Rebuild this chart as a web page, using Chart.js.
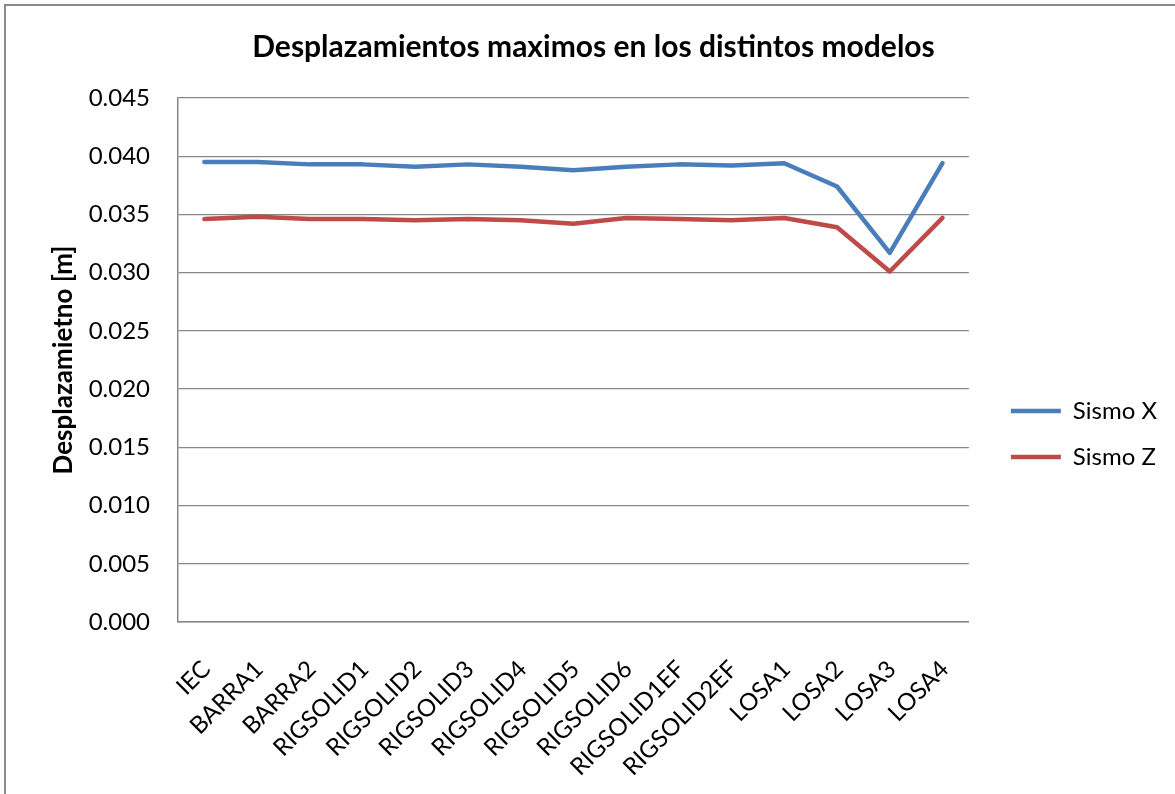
<!DOCTYPE html>
<html>
<head>
<meta charset="utf-8">
<script src="https://cdn.jsdelivr.net/npm/chart.js@4.4.1/dist/chart.umd.min.js"></script>
<style>
  html, body { margin: 0; padding: 0; background: #fff; overflow: hidden; }
  #marco { position: absolute; left: 4px; top: 4px; width: 1300px; height: 900px; border: 2px solid #8c8c8c; }
  #grafico { position: absolute; left: 0; top: 0; }
</style>
</head>
<body>
<div id="marco"></div>
<canvas id="grafico" width="1175" height="794"></canvas>
<script>
// Datos
var modelos = ['IEC', 'BARRA1', 'BARRA2', 'RIGSOLID1', 'RIGSOLID2', 'RIGSOLID3', 'RIGSOLID4', 'RIGSOLID5',
  'RIGSOLID6', 'RIGSOLID1EF', 'RIGSOLID2EF', 'LOSA1', 'LOSA2', 'LOSA3', 'LOSA4'];
var sismoX = [0.0395, 0.0395, 0.0393, 0.0393, 0.0391, 0.0393, 0.0391, 0.0388, 0.0391, 0.0393, 0.0392, 0.0394, 0.0374, 0.0317, 0.0394];
var sismoZ = [0.0346, 0.0348, 0.0346, 0.0346, 0.0345, 0.0346, 0.0345, 0.0342, 0.0347, 0.0346, 0.0345, 0.0347, 0.0339, 0.0301, 0.0347];
var nombresSeries = ['Sismo X', 'Sismo Z'];
var ejeY = { min: 0, max: 0.045, paso: 0.005 };

var fuente = 'Lato';
var gris = '#878787';

function serie(nombre, datos, color) {
  return {
    label: nombre,
    data: datos,
    borderColor: color,
    backgroundColor: color,
    borderWidth: 4.5,
    borderCapStyle: 'round',
    borderJoinStyle: 'round',
    pointRadius: 0,
    pointHoverRadius: 0,
    tension: 0,
    fill: false
  };
}

var ctx = document.getElementById('grafico');

new Chart(ctx, {
  type: 'line',
  data: {
    labels: modelos,
    datasets: [
      serie(nombresSeries[0], sismoX, '#4a7ebb'),
      serie(nombresSeries[1], sismoZ, '#be4b48')
    ]
  },
  options: {
    responsive: false,
    animation: false,
    layout: { padding: { left: 20, top: 8, right: 8, bottom: 0 } },
    plugins: {
      tooltip: { enabled: false },
      title: {
        display: true,
        text: 'Desplazamientos maximos en los distintos modelos',
        color: '#000',
        font: { family: fuente, size: 30, weight: 'bold' },
        padding: { top: 21, bottom: 33 }
      },
      legend: {
        position: 'right',
        align: 'center',
        // titulo vacio: solo baja las entradas de la leyenda
        title: { display: true, text: ' ', font: { size: 10 }, padding: { top: 27, bottom: 27 } },
        labels: {
          color: '#000',
          font: { family: fuente, size: 24 },
          usePointStyle: true,
          pointStyle: 'line',
          pointStyleWidth: 50,
          padding: 22
        }
      }
    },
    scales: {
      x: {
        offset: true,
        grid: { display: false },
        border: { display: true, color: gris, width: 1.5 },
        ticks: {
          color: '#000',
          font: { family: fuente, size: 24 },
          minRotation: 45,
          maxRotation: 45,
          autoSkip: false,
          padding: 25,
          labelOffset: 2
        },
        afterFit: function (s) { s.height = 172; }
      },
      y: {
        min: ejeY.min,
        max: ejeY.max,
        grid: { color: gris, lineWidth: 1.3, drawTicks: false },
        border: { display: true, color: gris, width: 1.5 },
        ticks: {
          stepSize: ejeY.paso,
          color: '#000',
          font: { family: fuente, size: 24 },
          padding: 28,
          callback: function (v) { return v.toFixed(3); }
        },
        title: {
          display: true,
          text: 'Desplazamietno [m]',
          color: '#000',
          font: { family: fuente, size: 26, weight: 'bold' },
          padding: { top: 28, bottom: 0 }
        },
        afterFit: function (s) { s.width = 158; }
      },
      // eje vacio a la derecha, solo separa la leyenda del area de trazado
      hueco: {
        type: 'linear',
        position: 'right',
        grid: { display: false },
        border: { display: false },
        ticks: { display: false },
        afterFit: function (s) { s.width = 20; }
      }
    }
  }
});
</script>
</body>
</html>
